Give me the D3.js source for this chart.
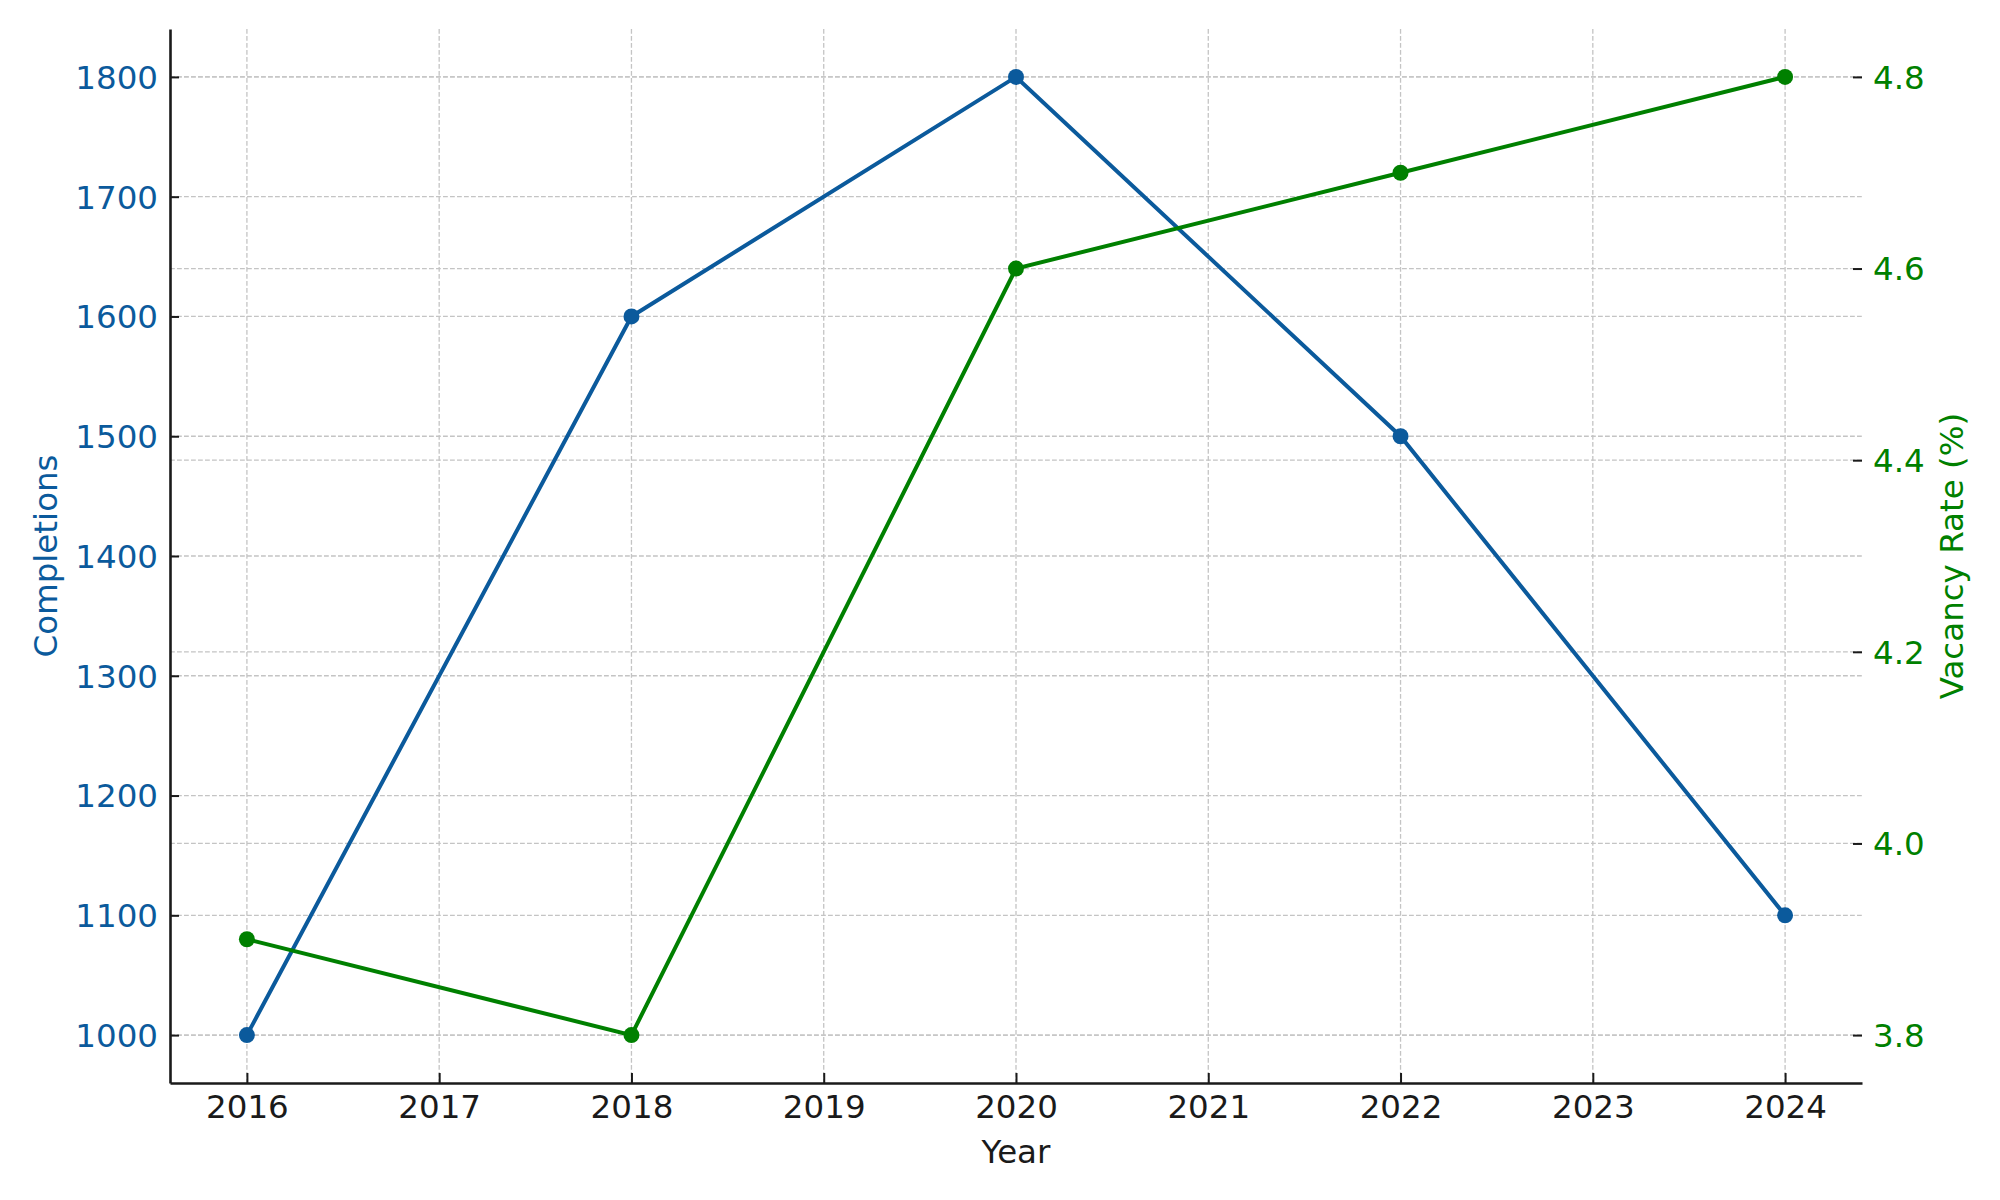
<!DOCTYPE html>
<html><head><meta charset="utf-8">
<script src="https://cdn.jsdelivr.net/npm/d3@7"></script>
<style>body{margin:0;background:#fff}svg{display:block}text{font-family:"DejaVu Sans",sans-serif}</style>
</head><body><svg id="c" width="2000" height="1200"></svg>
<script>
const years = [2016, 2018, 2020, 2022, 2024];
const completions = [1000, 1600, 1800, 1500, 1100];
const vacancy = [3.9, 3.8, 4.6, 4.7, 4.8];
const xTicks = [2016, 2017, 2018, 2019, 2020, 2021, 2022, 2023, 2024];
const leftTicks = [1000, 1100, 1200, 1300, 1400, 1500, 1600, 1700, 1800];
const rightTicks = [3.8, 4.0, 4.2, 4.4, 4.6, 4.8];

const BLUE = "#0b5a9c", GREEN = "#008000", FS = 32.5;
const L = 170, R = 1862, T = 29, B = 1083;
const svg = d3.select("#c");
const x = d3.scaleLinear().domain([2015.6, 2024.4]).range([L, R]);
const yL = d3.scaleLinear().domain([960, 1840]).range([B, T]);
const yR = d3.scaleLinear().domain([3.75, 4.85]).range([B, T]);

const grid = svg.append("g").attr("stroke", "#c4c4c4").attr("stroke-width", 1.3).attr("stroke-dasharray", "4.8,2.2");
grid.selectAll(".gx").data(xTicks).join("line").attr("x1", d => x(d)).attr("x2", d => x(d)).attr("y1", T).attr("y2", B);
grid.selectAll(".gl").data(leftTicks).join("line").attr("x1", L).attr("x2", R).attr("y1", d => yL(d)).attr("y2", d => yL(d));
grid.selectAll(".gr").data(rightTicks).join("line").attr("x1", L).attr("x2", R).attr("y1", d => yR(d)).attr("y2", d => yR(d));

// axes
const xa = svg.append("g").attr("transform", `translate(0,${B})`)
  .call(d3.axisBottom(x).tickValues(xTicks).tickFormat(d3.format("d")).tickSizeInner(-10).tickSizeOuter(0).tickPadding(12));
const la = svg.append("g").attr("transform", `translate(${L},0)`)
  .call(d3.axisLeft(yL).tickValues(leftTicks).tickFormat(d3.format("d")).tickSizeInner(-9).tickSizeOuter(0).tickPadding(12));
const ra = svg.append("g").attr("transform", `translate(${R},0)`)
  .call(d3.axisRight(yR).tickValues(rightTicks).tickFormat(d3.format(".1f")).tickSizeInner(-9).tickSizeOuter(0).tickPadding(11));
[xa, la, ra].forEach(g => { g.selectAll("text").attr("font-size", FS).attr("font-family", "DejaVu Sans"); g.selectAll(".tick line").attr("stroke", "#1a1a1a").attr("stroke-width", 2); });
la.selectAll("text").attr("dy", "0.35em");
ra.selectAll("text").attr("dy", "0.35em");
xa.selectAll("text").attr("fill", "#1a1a1a");
la.selectAll("text").attr("fill", BLUE);
ra.selectAll("text").attr("fill", GREEN);
xa.select(".domain").attr("stroke", "#1a1a1a").attr("stroke-width", 2.6);
la.select(".domain").attr("stroke", "#1a1a1a").attr("stroke-width", 2.6);
ra.select(".domain").remove();

// lines
const lineL = d3.line().x((d, i) => x(years[i])).y(d => yL(d));
const lineR = d3.line().x((d, i) => x(years[i])).y(d => yR(d));
svg.append("path").datum(completions).attr("d", lineL).attr("fill", "none").attr("stroke", BLUE).attr("stroke-width", 4);
svg.append("g").selectAll("circle").data(completions).join("circle").attr("cx", (d, i) => x(years[i])).attr("cy", d => yL(d)).attr("r", 8).attr("fill", BLUE);
svg.append("path").datum(vacancy).attr("d", lineR).attr("fill", "none").attr("stroke", GREEN).attr("stroke-width", 4);
svg.append("g").selectAll("circle").data(vacancy).join("circle").attr("cx", (d, i) => x(years[i])).attr("cy", d => yR(d)).attr("r", 8).attr("fill", GREEN);

// axis labels
svg.append("text").attr("x", (L + R) / 2).attr("y", 1163).attr("text-anchor", "middle").attr("font-size", FS).attr("fill", "#1a1a1a").text("Year");
svg.append("text").attr("transform", `translate(57,${(T + B) / 2}) rotate(-90)`).attr("text-anchor", "middle").attr("font-size", FS).attr("fill", BLUE).text("Completions");
svg.append("text").attr("transform", `translate(1963,${(T + B) / 2}) rotate(-90)`).attr("text-anchor", "middle").attr("font-size", FS).attr("fill", GREEN).text("Vacancy Rate (%)");
</script></body></html>
